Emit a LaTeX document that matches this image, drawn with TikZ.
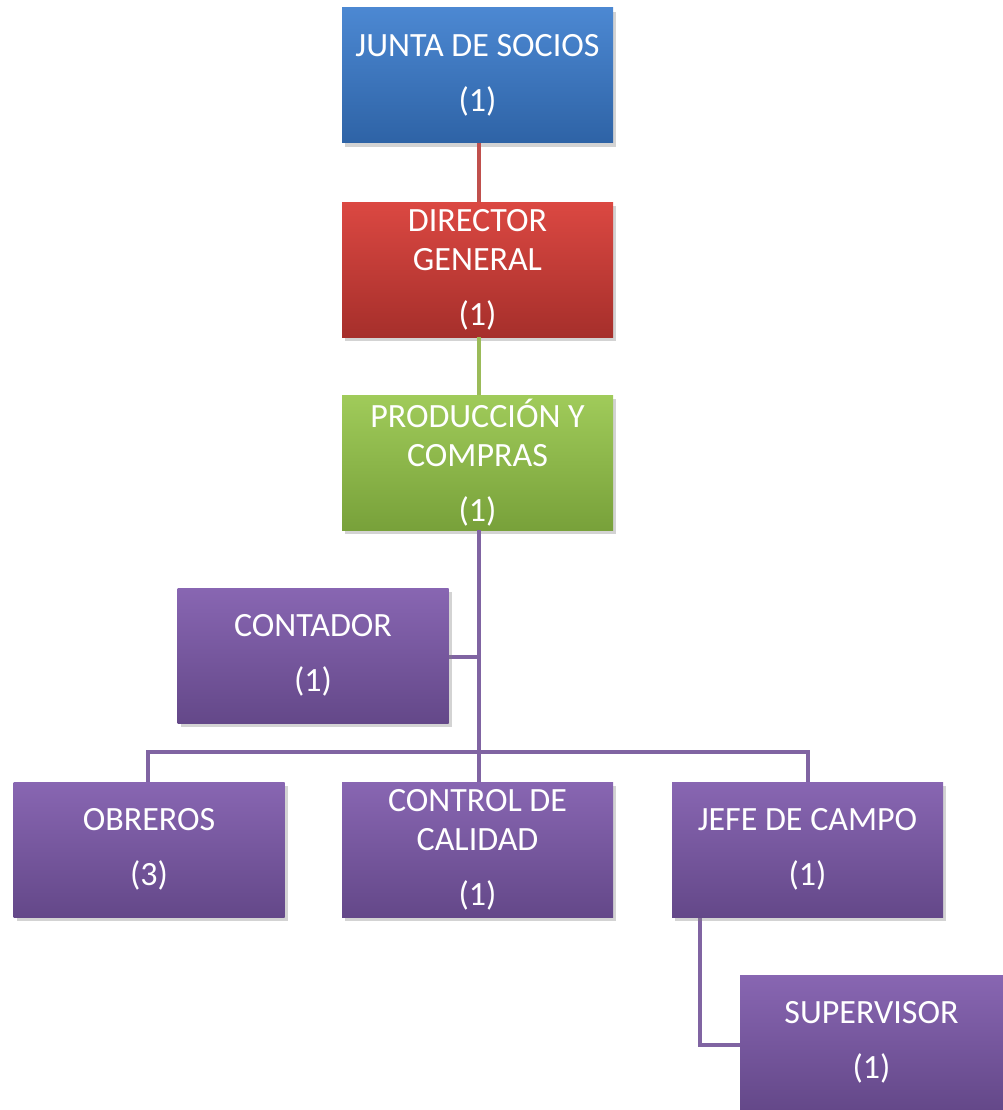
\documentclass[tikz,border=0pt]{standalone}
\usepackage{fontspec}
\setmainfont{Carlito}
\usetikzlibrary{shadows}
\definecolor{azulA}{HTML}{4C88D2}
\definecolor{azulB}{HTML}{2E63A6}
\definecolor{rojoA}{HTML}{DB4842}
\definecolor{rojoB}{HTML}{A62F2B}
\definecolor{verdeA}{HTML}{A0CB5A}
\definecolor{verdeB}{HTML}{78A13A}
\definecolor{moradoA}{HTML}{8866B2}
\definecolor{moradoB}{HTML}{644889}
\definecolor{lineaR}{HTML}{C0504D}
\definecolor{lineaV}{HTML}{9BBB59}
\definecolor{lineaM}{HTML}{8064A2}
\begin{document}
\begin{tikzpicture}[x=1pt,y=-1pt,
    caja/.style={rectangle, minimum width=271pt, minimum height=135pt,
        inner sep=0pt, align=center, text=white,
        font=\fontsize{34}{39}\selectfont,
        drop shadow={opacity=0.35, shadow xshift=3pt, shadow yshift=-4pt}},
    azul/.style={caja, top color=azulA, bottom color=azulB},
    rojo/.style={caja, top color=rojoA, bottom color=rojoB},
    verde/.style={caja, top color=verdeA, bottom color=verdeB},
    morado/.style={caja, top color=moradoA, bottom color=moradoB},
    enlace/.style={line width=4.5pt}]
    \useasboundingbox (0,0) rectangle (1003,1110);
    % conectores primero, las cajas encima
    \coordinate (barra) at (479,752);
    \coordinate (tallo) at (700,1045);
    \node[azul] (junta) at (477.5,75.5) {JUNTA DE SOCIOS\\[16pt](1)};
    \node[rojo] (director) at (477.5,269.5) {DIRECTOR\\GENERAL\\[16pt](1)};
    \node[verde] (produccion) at (477.5,462.5) {PRODUCCIÓN Y\\COMPRAS\\[16pt](1)};
    \draw[enlace, lineaR] (junta.south -| barra) -- (director.north -| barra);
    \draw[enlace, lineaV] (director.south -| barra) -- (produccion.north -| barra);
    \draw[enlace, lineaM] (produccion.south -| barra) -- (barra |- 0,782);
    \draw[enlace, lineaM] (148,782) |- (barra) -| (808,782);
    \draw[enlace, lineaM] (barra |- 0,657) -- (449,657);
    \draw[enlace, lineaM] (tallo |- 0,917) |- (740,1045);
    \node[morado] (contador) at (313,655.5) {CONTADOR\\[16pt](1)};
    \node[morado] (obreros) at (149,849.5) {OBREROS\\[16pt](3)};
    \node[morado] (calidad) at (477.5,849.5) {CONTROL DE\\CALIDAD\\[16pt](1)};
    \node[morado] (jefe) at (807.5,849.5) {JEFE DE CAMPO\\[16pt](1)};
    \node[morado, minimum width=263pt] (supervisor) at (871.5,1042.5) {SUPERVISOR\\[16pt](1)};
\end{tikzpicture}
\end{document}
